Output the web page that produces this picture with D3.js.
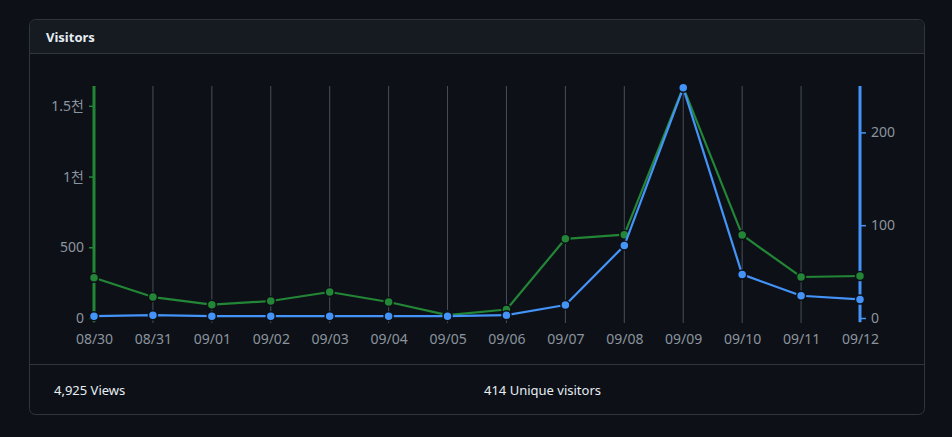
<!DOCTYPE html>
<html lang="ko">
<head>
    <meta charset="UTF-8">
    <title>Visitors</title>
    <script src="https://d3js.org/d3.v7.min.js"></script>
    <style>
        html, body { margin: 0; padding: 0; background: #0d1117; }
        body { font-family: "Segoe UI", "Noto Sans", "Noto Sans CJK KR", sans-serif; }
        svg { display: block; }
        .tick text { fill: #8b949e; font-size: 14px; font-family: "Noto Sans", "Noto Sans CJK KR", sans-serif; }
    </style>
</head>
<body>
    <svg width="952" height="437"></svg>
    <script>
        const dates = ["08/30", "08/31", "09/01", "09/02", "09/03", "09/04", "09/05",
                       "09/06", "09/07", "09/08", "09/09", "09/10", "09/11", "09/12"];
        const views = [285, 148, 94, 120, 184, 113, 20, 60, 560, 589, 1630, 587, 290, 297];
        const uniques = [2, 3, 2, 2, 2, 2, 2, 3, 14, 78, 248, 47, 24, 20];
        const leftTicks = [0, 500, 1000, 1500];
        const leftTickLabels = ["0", "500", "1천", "1.5천"];
        const rightTicks = [0, 100, 200];
        const totalViews = "4,925 Views";
        const totalUniques = "414 Unique visitors";

        const green = "#238636", blue = "#4493f8", bg = "#0d1117";
        const svg = d3.select("svg");

        // card
        svg.append("rect")
            .attr("x", 29.5).attr("y", 19.5).attr("width", 895).attr("height", 395)
            .attr("rx", 6).attr("fill", bg).attr("stroke", "#30363d");
        svg.append("path")
            .attr("d", "M30,53 L30,26 Q30,20 36,20 L918,20 Q924,20 924,26 L924,53 Z")
            .attr("fill", "#161b22");
        svg.append("line")
            .attr("x1", 30).attr("x2", 924).attr("y1", 53.5).attr("y2", 53.5)
            .attr("stroke", "#30363d");
        svg.append("line")
            .attr("x1", 30).attr("x2", 924).attr("y1", 364.5).attr("y2", 364.5)
            .attr("stroke", "#30363d");
        svg.append("text")
            .attr("x", 46).attr("y", 42)
            .attr("fill", "#e6edf3").attr("font-size", 13).attr("font-weight", 700)
            .text("Visitors");
        svg.append("text")
            .attr("x", 54).attr("y", 395)
            .attr("fill", "#e6edf3").attr("font-size", 13)
            .text(totalViews);
        svg.append("text")
            .attr("x", 484).attr("y", 395)
            .attr("fill", "#e6edf3").attr("font-size", 13)
            .text(totalUniques);

        // scales
        const x = d3.scalePoint().domain(dates).range([94, 860]);
        const yL = d3.scaleLinear().domain([0, 1640]).range([318, 86]);
        const yR = d3.scaleLinear().domain([0, 250]).range([318, 86]);

        // vertical gridlines
        svg.append("g")
            .selectAll("line")
            .data(dates)
            .enter().append("line")
            .attr("x1", d => x(d)).attr("x2", d => x(d))
            .attr("y1", 86).attr("y2", 323)
            .attr("stroke", "#484f58").attr("stroke-width", 1);

        // x axis labels
        const xAxis = svg.append("g")
            .attr("transform", "translate(0,323)")
            .call(d3.axisBottom(x).tickSize(0).tickPadding(11));
        xAxis.select(".domain").remove();

        // left axis
        const leftAxis = svg.append("g")
            .attr("transform", "translate(94,0)")
            .call(d3.axisLeft(yL).tickValues(leftTicks)
                .tickFormat((d, i) => leftTickLabels[i]).tickSize(5).tickPadding(5));
        leftAxis.select(".domain").remove();
        leftAxis.selectAll(".tick line").attr("stroke", green).attr("stroke-width", 1.5);
        svg.append("line")
            .attr("x1", 94).attr("x2", 94).attr("y1", 86).attr("y2", 322)
            .attr("stroke", green).attr("stroke-width", 3);

        // right axis
        const rightAxis = svg.append("g")
            .attr("transform", "translate(860,0)")
            .call(d3.axisRight(yR).tickValues(rightTicks).tickSize(6).tickPadding(5));
        rightAxis.select(".domain").remove();
        rightAxis.selectAll(".tick line").attr("stroke", blue).attr("stroke-width", 1.5);
        svg.append("line")
            .attr("x1", 860).attr("x2", 860).attr("y1", 86).attr("y2", 322)
            .attr("stroke", blue).attr("stroke-width", 3);

        function drawSeries(values, y, color) {
            const line = d3.line()
                .x((d, i) => x(dates[i]))
                .y(d => y(d));
            svg.append("path")
                .datum(values)
                .attr("d", line)
                .attr("fill", "none")
                .attr("stroke", color)
                .attr("stroke-width", 2.2)
                .attr("stroke-linejoin", "round");
            svg.append("g")
                .selectAll("circle")
                .data(values)
                .enter().append("circle")
                .attr("cx", (d, i) => x(dates[i]))
                .attr("cy", d => y(d))
                .attr("r", 4.5)
                .attr("fill", color)
                .attr("stroke", bg)
                .attr("stroke-width", 1.5);
        }

        drawSeries(views, yL, green);
        drawSeries(uniques, yR, blue);
    </script>
</body>
</html>
